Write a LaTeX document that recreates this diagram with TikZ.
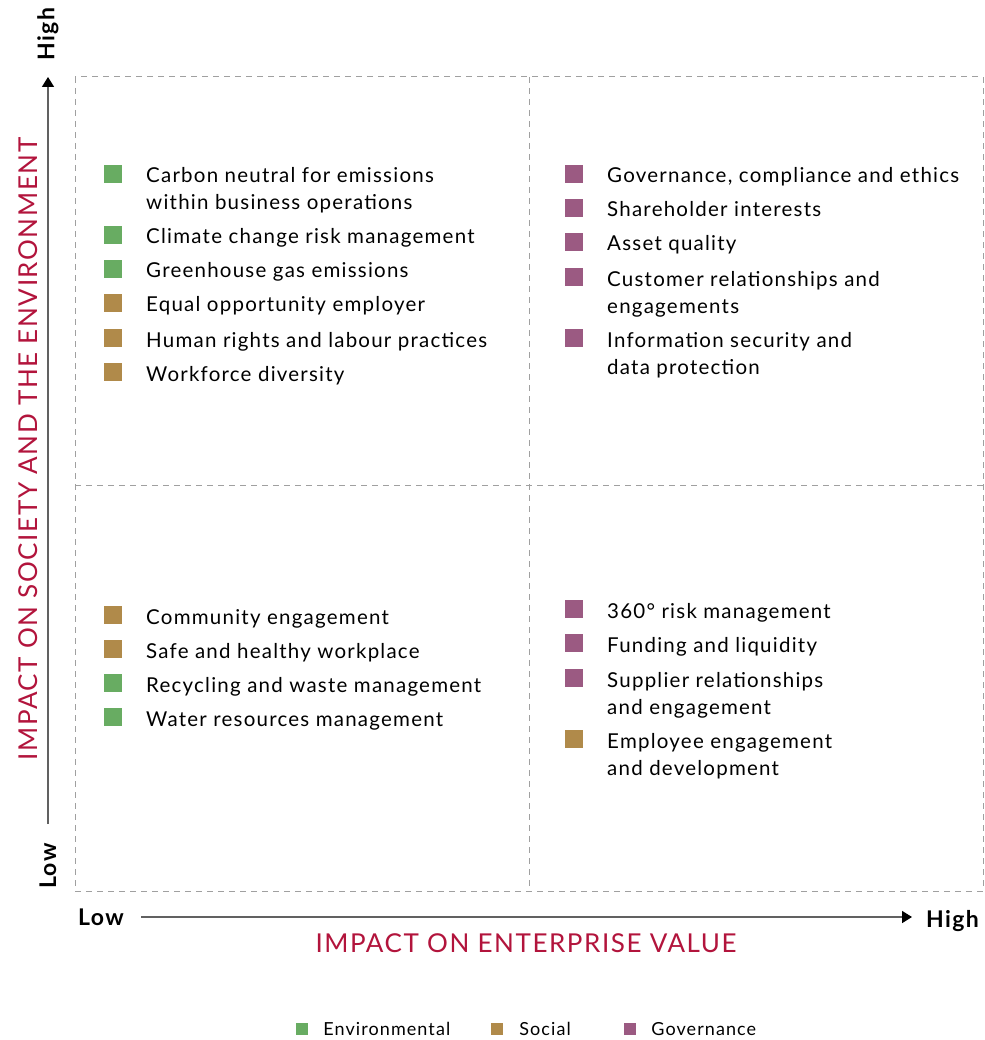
\documentclass[tikz,border=0pt]{standalone}
\usepackage{fontspec}
\setmainfont{Lato}[LetterSpace=6]
\usetikzlibrary{arrows.meta, positioning}

\definecolor{envgreen}{RGB}{104,172,98}
\definecolor{socgold}{RGB}{176,138,74}
\definecolor{govplum}{RGB}{155,90,130}
\definecolor{axisred}{RGB}{178,20,60}
\definecolor{gridgray}{RGB}{160,160,160}

\tikzset{
  grid line/.style={draw=gridgray, line width=1pt, dash pattern=on 6pt off 5pt},
  axis arrow/.style={draw=black!62, line width=1.6pt,
    -{Triangle[length=10pt,width=12pt,color=black]}},
  item/.style={anchor=base west, inner sep=0pt, align=left,
    font=\fontsize{20.5}{27}\selectfont},
  itembox/.style={minimum size=18pt, inner sep=0pt, anchor=south east},
  envbox/.style={itembox, fill=envgreen},
  socbox/.style={itembox, fill=socgold},
  govbox/.style={itembox, fill=govplum},
  legbox/.style={minimum size=12pt, inner sep=0pt},
  legtext/.style={inner sep=0pt, anchor=west, font=\fontsize{18}{20}\selectfont},
  level/.style={inner sep=0pt, font=\fontsize{23}{24}\selectfont\bfseries},
  axis title/.style={inner sep=0pt, text=axisred, font=\fontsize{26}{28}\selectfont}
}

\begin{document}
\begin{tikzpicture}[x=1pt, y=-1pt]
\useasboundingbox (0,0) rectangle (984,1040);

% quadrant grid
\draw[grid line] (75,77) rectangle (983,891);
\draw[grid line] (529,77) -- (529,891);
\draw[grid line] (75,485) -- (983,485);

% axes
\coordinate (ybot) at (48,824);
\coordinate (ytop) at (48,77);
\coordinate (xleft) at (141,917);
\coordinate (xright) at (912,917);
\draw[axis arrow] (ybot) -- (ytop);
\draw[axis arrow] (xleft) -- (xright);

\node[level, rotate=90] (yhigh) at (48,34) {High};
\node[level, rotate=90] (ylow) at (48,866) {Low};
\node[level, anchor=west] (xlow) at (78,917) {Low};
\node[level, anchor=west] (xhigh) at (926,921) {High};

\node[axis title, rotate=90] (ytitle) at (28,449) {IMPACT ON SOCIETY AND THE ENVIRONMENT};
\node[axis title] (xtitle) at (526,943) {IMPACT ON ENTERPRISE VALUE};

% top left (two-line items sit on their second baseline)
\node[item] (tl1) at (146,210) {Carbon neutral for emissions\\within business operations};
\node[item] (tl2) at (146,244) {Climate change risk management};
\node[item] (tl3) at (146,278) {Greenhouse gas emissions};
\node[item] (tl4) at (146,312) {Equal opportunity employer};
\node[item] (tl5) at (146,347) {Human rights and labour practices};
\node[item] (tl6) at (146,381) {Workforce diversity};
\node[envbox] (btl1) at ([xshift=-24pt,yshift=27pt]tl1.base west) {};
\node[envbox] (btl2) at ([xshift=-24pt]tl2.base west) {};
\node[envbox] (btl3) at ([xshift=-24pt]tl3.base west) {};
\node[socbox] (btl4) at ([xshift=-24pt]tl4.base west) {};
\node[socbox] (btl5) at ([xshift=-24pt]tl5.base west) {};
\node[socbox] (btl6) at ([xshift=-24pt]tl6.base west) {};

% top right
\node[item] (tr1) at (607,183) {Governance, compliance and ethics};
\node[item] (tr2) at (607,217) {Shareholder interests};
\node[item] (tr3) at (607,251) {Asset quality};
\node[item] (tr4) at (607,313) {Customer relationships and\\engagements};
\node[item] (tr5) at (607,374) {Information security and\\data protection};
\node[govbox] (btr1) at ([xshift=-24pt]tr1.base west) {};
\node[govbox] (btr2) at ([xshift=-24pt]tr2.base west) {};
\node[govbox] (btr3) at ([xshift=-24pt]tr3.base west) {};
\node[govbox] (btr4) at ([xshift=-24pt,yshift=27pt]tr4.base west) {};
\node[govbox] (btr5) at ([xshift=-24pt,yshift=27pt]tr5.base west) {};

% bottom left
\node[item] (bl1) at (146,624) {Community engagement};
\node[item] (bl2) at (146,658) {Safe and healthy workplace};
\node[item] (bl3) at (146,692) {Recycling and waste management};
\node[item] (bl4) at (146,726) {Water resources management};
\node[socbox] (bbl1) at ([xshift=-24pt]bl1.base west) {};
\node[socbox] (bbl2) at ([xshift=-24pt]bl2.base west) {};
\node[envbox] (bbl3) at ([xshift=-24pt]bl3.base west) {};
\node[envbox] (bbl4) at ([xshift=-24pt]bl4.base west) {};

% bottom right
\node[item] (br1) at (607,618) {360° risk management};
\node[item] (br2) at (607,652) {Funding and liquidity};
\node[item] (br3) at (607,714) {Supplier relationships\\and engagement};
\node[item] (br4) at (607,775) {Employee engagement\\and development};
\node[govbox] (bbr1) at ([xshift=-24pt]br1.base west) {};
\node[govbox] (bbr2) at ([xshift=-24pt]br2.base west) {};
\node[govbox] (bbr3) at ([xshift=-24pt,yshift=27pt]br3.base west) {};
\node[socbox] (bbr4) at ([xshift=-24pt,yshift=27pt]br4.base west) {};

% legend
\node[legbox, fill=envgreen] (legenv) at (302,1029) {};
\node[legtext, right=15pt of legenv] (legenvtext) {Environmental};
\node[legbox, fill=socgold] (legsoc) at (497,1029) {};
\node[legtext, right=16pt of legsoc] (legsoctext) {Social};
\node[legbox, fill=govplum] (leggov) at (630,1029) {};
\node[legtext, right=15pt of leggov] (leggovtext) {Governance};
\end{tikzpicture}
\end{document}
